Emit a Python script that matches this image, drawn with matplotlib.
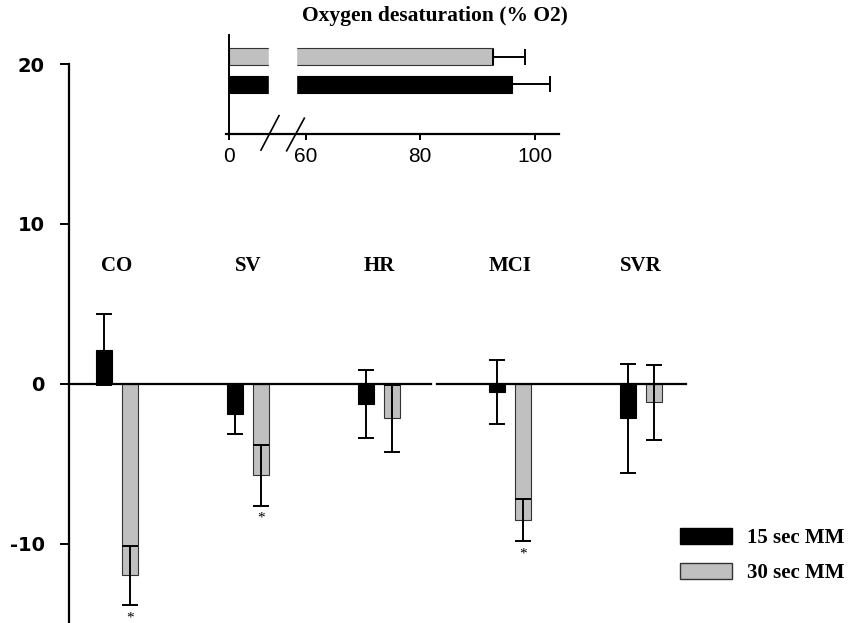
import numpy as np
import matplotlib.pyplot as plt
from matplotlib.patches import Patch

plt.rcParams['axes.unicode_minus'] = False

# main panel: % change from baseline
categories = ['CO', 'SV', 'HR', 'MCI', 'SVR']
mm15 = [2.15, -1.9, -1.25, -0.5, -2.15]
mm15_err = [2.2, 1.2, 2.1, 2.0, 3.4]
mm30 = [-11.95, -5.7, -2.15, -8.5, -1.15]
mm30_err = [1.85, 1.9, 2.1, 1.3, 2.35]
mm30_sig = [True, True, False, True, False]

# inset: oxygen desaturation
series_labels = ['15 sec MM', '30 sec MM']
desat = [96.1, 92.7]
desat_err = [6.5, 5.6]

BLACK = 'black'
GRAY = '#c0c0c0'
EDGE = '#333333'
SERIF = 'Liberation Serif'
SANS = 'Liberation Sans'

fig = plt.figure(figsize=(8.51, 6.23), dpi=100)
ax = fig.add_axes([69 / 851, 0, 617 / 851, 559 / 623])

x = np.arange(len(categories))
off, w = 0.1, 0.122
ax.bar(x - off, mm15, w, color=BLACK, edgecolor=BLACK, lw=0.8, zorder=2)
ax.bar(x + off, mm30, w, color=GRAY, edgecolor=EDGE, lw=0.8, zorder=2)
ax.errorbar(x - off, mm15, yerr=mm15_err, fmt='none', ecolor='black',
            elinewidth=1.4, capsize=5.8, capthick=1.4, zorder=3)
ax.errorbar(x + off, mm30, yerr=mm30_err, fmt='none', ecolor='black',
            elinewidth=1.4, capsize=5.8, capthick=1.4, zorder=3)

x0, x1 = -0.366, 4.344
ax.set_xlim(x0, x1)
ax.set_ylim(-14.94, 20)

# zero line with a small break between HR and MCI
ax.plot([x0, 2.40], [0, 0], color='black', lw=1.6, zorder=4, clip_on=False)
ax.plot([2.44, x1], [0, 0], color='black', lw=1.6, zorder=4, clip_on=False)

for s in ['top', 'right', 'bottom']:
    ax.spines[s].set_visible(False)
ax.spines['left'].set_linewidth(1.6)
ax.set_xticks([])
ax.set_yticks([-10, 0, 10, 20])
ax.tick_params(axis='y', direction='out', length=6.5, width=1.4, pad=11)
for t in ax.get_yticklabels():
    t.set_fontfamily('DejaVu Sans')
    t.set_fontweight('bold')
    t.set_fontsize(14)

for i, c in enumerate(categories):
    ax.text(i, 7.4, c, ha='center', va='center', fontsize=15,
            fontweight='bold', fontfamily=SERIF)
    if mm30_sig[i]:
        ax.text(i + off, mm30[i] - mm30_err[i] - 0.8, '*', ha='center',
                va='center', fontsize=11, fontfamily=SERIF)


# broken x-axis for the inset
def fwd(v):
    v = np.asarray(v, dtype=float)
    return np.where(v <= 7, v + 46.6,
                    np.where(v < 58.25, 53.6 + (v - 7) * (4.65 / 51.25), v))


def inv(p):
    p = np.asarray(p, dtype=float)
    return np.where(p <= 53.6, p - 46.6,
                    np.where(p < 58.25, 7 + (p - 53.6) * (51.25 / 4.65), p))


axi = fig.add_axes([226 / 851, 1 - 134.3 / 623, 333.3 / 851, 99.3 / 623])
axi.set_xscale('function', functions=(fwd, inv))
yy = [0, 1]
axi.barh(yy, desat, height=0.62, color=[BLACK, GRAY], edgecolor=[BLACK, EDGE],
         lw=0.8, zorder=2)
axi.errorbar(desat, yy, xerr=[np.zeros(2), desat_err], fmt='none',
             ecolor='black', elinewidth=1.4, capsize=5.8, capthick=1.4,
             zorder=3)
axi.axvspan(7, 58.25, ymin=0.03, ymax=1, color='white', zorder=2.5)
axi.set_xlim(-0.52, 104.3)
axi.set_ylim(-1.81, 1.79)
axi.set_yticks([])
axi.set_xticks([0, 60, 80, 100])
axi.tick_params(axis='x', direction='out', length=4.5, width=1.4, pad=5,
                labelsize=15)
for t in axi.get_xticklabels():
    t.set_fontfamily(SANS)
axi.spines['top'].set_visible(False)
axi.spines['right'].set_visible(False)
axi.spines['left'].set_position(('data', 0))
axi.spines['left'].set_linewidth(1.4)
axi.spines['bottom'].set_linewidth(1.6)
axi.set_facecolor('none')

for sx, sy in [((0.105, 0.159), (-0.159, 0.188)), ((0.182, 0.235), (-0.166, 0.162))]:
    axi.plot(sx, sy, color='black', lw=1.2, transform=axi.transAxes,
             clip_on=False, zorder=5)

axi.text(0.627, 1.19, 'Oxygen desaturation (% O2)', transform=axi.transAxes,
         ha='center', va='center', fontsize=15.5, fontweight='bold',
         fontfamily=SERIF)

handles = [Patch(facecolor=BLACK, edgecolor=BLACK),
           Patch(facecolor=GRAY, edgecolor=EDGE)]
fig.legend(handles, series_labels, loc='upper left',
           bbox_to_anchor=(680 / 851, 1 - 528 / 623), frameon=False,
           borderpad=0, borderaxespad=0, handlelength=2.5, handleheight=0.82,
           handletextpad=0.7, labelspacing=0.7,
           prop=dict(family=SERIF, weight='bold', size=15))

fig.savefig('out.png', dpi=100)
